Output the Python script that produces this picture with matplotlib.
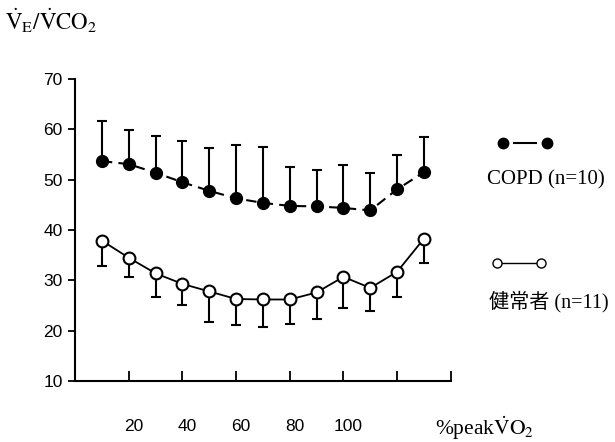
"""VE/VCO2 vs %peakVO2 for COPD and healthy subjects."""

import matplotlib

matplotlib.use("Agg")
import matplotlib.pyplot as plt
import matplotlib.transforms as mtransforms
from matplotlib.lines import Line2D

# データ
pct_peak = [10, 20, 30, 40, 50, 60, 70, 80, 90, 100, 110, 120, 130]
copd_mean = [53.7, 53.1, 51.4, 49.5, 47.8, 46.3, 45.4, 44.8, 44.7, 44.4, 43.9, 48.1, 51.5]
copd_sd = [8.0, 6.7, 7.3, 8.3, 8.6, 10.7, 11.2, 7.7, 7.2, 8.5, 7.5, 6.8, 6.9]
healthy_mean = [37.9, 34.5, 31.4, 29.3, 27.8, 26.3, 26.2, 26.2, 27.6, 30.7, 28.5, 31.7, 38.3]
healthy_sd = [5.0, 3.9, 4.8, 4.2, 6.0, 5.2, 5.4, 4.9, 5.3, 6.1, 4.6, 5.0, 4.8]
x_ticks = [20, 40, 60, 80, 100, 120, 140]
x_tick_labels = ["20", "40", "60", "80", "100", "", ""]
y_ticks = [10, 20, 30, 40, 50, 60, 70]

plt.rcParams["mathtext.fontset"] = "stix"
SANS = "Liberation Sans"
SERIF = ["Liberation Serif", "Noto Sans CJK JP"]

fig = plt.figure(figsize=(6.15, 4.42), dpi=100)
ax = fig.add_axes([0.122, 0.138, 0.611, 0.683])

# COPD: 上側のみのエラーバー
ax.errorbar(pct_peak, copd_mean, yerr=[[0] * len(copd_sd), copd_sd],
            fmt="none", ecolor="black", elinewidth=1.5, capsize=3.5, capthick=1.5)
ax.plot(pct_peak, copd_mean, color="black", lw=1.5, dashes=(5, 3),
        marker="o", ms=8.5, mfc="black", mec="black", zorder=3)

# 健常者: 下側のみのエラーバー
ax.errorbar(pct_peak, healthy_mean, yerr=[healthy_sd, [0] * len(healthy_sd)],
            fmt="none", ecolor="black", elinewidth=1.5, capsize=3.5, capthick=1.5)
ax.plot(pct_peak, healthy_mean, color="black", lw=1.3,
        marker="o", ms=8.5, mfc="white", mec="black", mew=1.5, zorder=3)

ax.set_xlim(0, 140)
ax.set_ylim(10, 70)
ax.set_xticks(x_ticks)
ax.set_xticklabels(x_tick_labels, fontsize=12.5, family=SANS)
ax.set_yticks(y_ticks)
ax.set_yticklabels([str(v) for v in y_ticks], fontsize=12.5, family=SANS)
ax.tick_params(axis="x", direction="in", length=7, width=1.3, pad=27)
ax.tick_params(axis="y", direction="out", length=5, width=1.3, pad=4)
# ラベルを少し右にずらす
offset = mtransforms.ScaledTranslation(5 / 100, 0, fig.dpi_scale_trans)
for lbl in ax.get_xticklabels():
    lbl.set_transform(lbl.get_transform() + offset)

for side in ["top", "right"]:
    ax.spines[side].set_visible(False)
for side in ["left", "bottom"]:
    ax.spines[side].set_linewidth(1.5)

# 軸ラベル
fig.text(0.008, 0.953, r"$\mathrm{\dot{V}_E/\dot{V}CO_2}$", fontsize=16.5,
         ha="left", va="center")
fig.text(0.708, 0.032, r"%peak$\mathrm{\dot{V}O_2}$", fontsize=15.5,
         family=SERIF, ha="left", va="center")

# 凡例
fig.add_artist(Line2D([0.818, 0.89], [0.677, 0.677], transform=fig.transFigure,
                      ls="none", marker="o", ms=7.5, mfc="black", mec="black"))
fig.add_artist(Line2D([0.836, 0.872], [0.677, 0.677], transform=fig.transFigure,
                      color="black", lw=1.5))
fig.text(0.792, 0.594, "COPD (n=10)", fontsize=15, family=SERIF,
         ha="left", va="center")
fig.add_artist(Line2D([0.808, 0.88], [0.405, 0.405], transform=fig.transFigure,
                      color="black", lw=1.0, marker="o", ms=6.5, mfc="white",
                      mec="black", mew=1.0))
fig.text(0.795, 0.317, "健常者 (n=11)", fontsize=14.5, family=SERIF,
         ha="left", va="center")

fig.savefig("out.png", dpi=100)
